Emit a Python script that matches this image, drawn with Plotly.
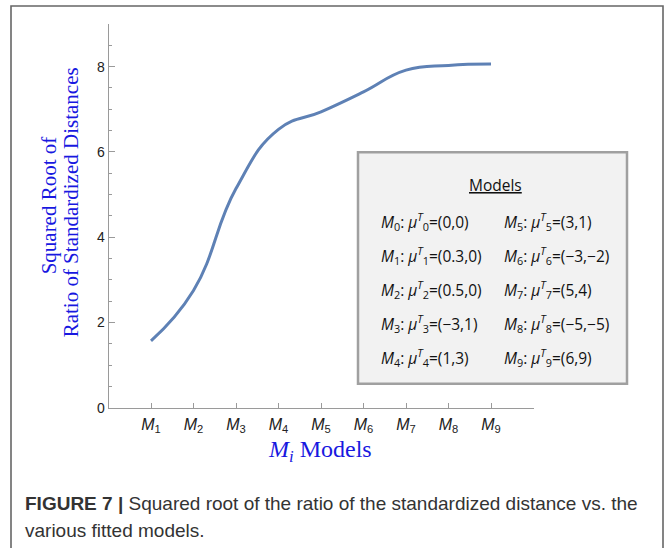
import plotly.graph_objects as go

# ---- data ----
model_pos = [1, 2, 3, 4, 5, 6, 7, 8, 9]
model_labels = ["1", "2", "3", "4", "5", "6", "7", "8", "9"]
ratio_values = [1.57, 2.75, 5.14, 6.53, 6.94, 7.41, 7.92, 8.03, 8.06]
y_ticks = [0, 2, 4, 6, 8]

legend_left_idx = ["0", "1", "2", "3", "4"]
legend_left_mu = ["(0,0)", "(0.3,0)", "(0.5,0)", "(\u22123,1)", "(1,3)"]
legend_right_idx = ["5", "6", "7", "8", "9"]
legend_right_mu = ["(3,1)", "(\u22123,\u22122)", "(5,4)", "(\u22125,\u22125)", "(6,9)"]

caption_bold = "FIGURE 7 |"
caption_line1 = " Squared root of the ratio of the standardized distance vs. the"
caption_line2 = "various fitted models."

W, H = 670, 548
FIG_H = 557  # rendered page is captured slightly taller than 548 and squeezed


def px(x):
    return x / W


def py(y):
    return 1 - y / H


BLUE = "#1818e0"
LINE = "#5e81b5"
AX = "#9a9a9a"

fig = go.Figure()
fig.add_trace(go.Scatter(
    x=model_pos, y=ratio_values, mode="lines",
    line=dict(color=LINE, width=3, shape="spline", smoothing=1.3),
    hoverinfo="skip", showlegend=False,
))

annotations = []
shapes = []

# outer frame
shapes.append(dict(type="rect", xref="paper", yref="paper",
                   x0=px(11), x1=px(663), y0=py(570), y1=py(6),
                   line=dict(color="#666666", width=1.6), fillcolor="rgba(0,0,0,0)",
                   layer="below"))

# legend box
shapes.append(dict(type="rect", xref="paper", yref="paper",
                   x0=px(358), x1=px(627), y0=py(383), y1=py(152),
                   line=dict(color="#a0a0a0", width=2.5), fillcolor="#f2f2f2",
                   layer="above"))

legend_font = dict(family="Open Sans", size=15.5, color="#111111")
annotations.append(dict(xref="paper", yref="paper", x=px(495), y=py(185),
                        text="<u>Models</u>", showarrow=False, xanchor="center",
                        yanchor="middle", font=legend_font))
row_y = [221, 255, 289, 323, 357]
for k in range(5):
    for xcol, idx, mu in ((379, legend_left_idx[k], legend_left_mu[k]),
                          (502, legend_right_idx[k], legend_right_mu[k])):
        txt = (f"<i>M</i><sub>{idx}</sub>: <i>\u03bc</i><sup><i>T</i></sup>"
               f"<sub>{idx}</sub>={mu}")
        annotations.append(dict(xref="paper", yref="paper", x=px(xcol), y=py(row_y[k]),
                                text=txt, showarrow=False, xanchor="left",
                                yanchor="middle", font=legend_font))

# axis titles
title_font = dict(family="Liberation Serif", size=21, color=BLUE)
annotations.append(dict(xref="paper", yref="paper", x=px(49), y=py(205),
                        text="Squared Root of", textangle=-90, showarrow=False,
                        xanchor="center", yanchor="middle", font=title_font))
annotations.append(dict(xref="paper", yref="paper", x=px(71), y=py(202),
                        text="Ratio of Standardized Distances", textangle=-90,
                        showarrow=False, xanchor="center", yanchor="middle",
                        font=title_font))
annotations.append(dict(xref="paper", yref="paper", x=px(320), y=py(450),
                        text="<i>M</i><sub><i>i</i></sub> Models", showarrow=False,
                        xanchor="center", yanchor="middle",
                        font=dict(family="Liberation Serif", size=24, color=BLUE)))

# caption
cap_font = dict(family="Liberation Sans", size=19, color="#333333")
annotations.append(dict(xref="paper", yref="paper", x=px(23), y=py(503),
                        text=f"<b>{caption_bold}</b>{caption_line1}", showarrow=False,
                        xanchor="left", yanchor="middle", font=cap_font))
annotations.append(dict(xref="paper", yref="paper", x=px(23), y=py(530),
                        text=caption_line2, showarrow=False,
                        xanchor="left", yanchor="middle", font=cap_font))

fig.update_layout(
    width=W, height=FIG_H,
    margin=dict(l=0, r=0, t=0, b=0),
    paper_bgcolor="white", plot_bgcolor="white",
    showlegend=False,
    xaxis=dict(
        domain=[px(108.5), px(533.5)], range=[0, 10],
        showgrid=False, zeroline=False, showline=True, linecolor=AX, linewidth=1,
        ticks="inside", ticklen=5, tickcolor=AX, tickwidth=1,
        tickvals=model_pos,
        ticktext=[f"<i>M</i><sub>{s}</sub>" for s in model_labels],
        tickfont=dict(family="Liberation Sans", size=16, color="#222222"),
        tickangle=0, ticklabelstandoff=2,
        fixedrange=True,
    ),
    yaxis=dict(
        domain=[py(407), py(24)], range=[0, 9],
        showgrid=False, zeroline=False, showline=True, linecolor=AX, linewidth=1,
        ticks="inside", ticklen=6, tickcolor=AX, tickwidth=1,
        tickvals=y_ticks, ticktext=[str(v) for v in y_ticks],
        tickfont=dict(family="Liberation Sans", size=14, color="#222222"),
        tickangle=0,
        minor=dict(dtick=0.5, ticks="inside", ticklen=3.5, tickcolor=AX, tickwidth=1),
        fixedrange=True,
    ),
    annotations=annotations,
    shapes=shapes,
)

fig.write_html(
    "out.html",
    config={"displayModeBar": False, "staticPlot": True},
    post_script=(
        "var d=document.documentElement,b=document.body;"
        "d.style.margin='0';d.style.padding='0';d.style.overflow='hidden';"
        "b.style.margin='0';b.style.padding='0';b.style.overflow='hidden';"
    ),
)
